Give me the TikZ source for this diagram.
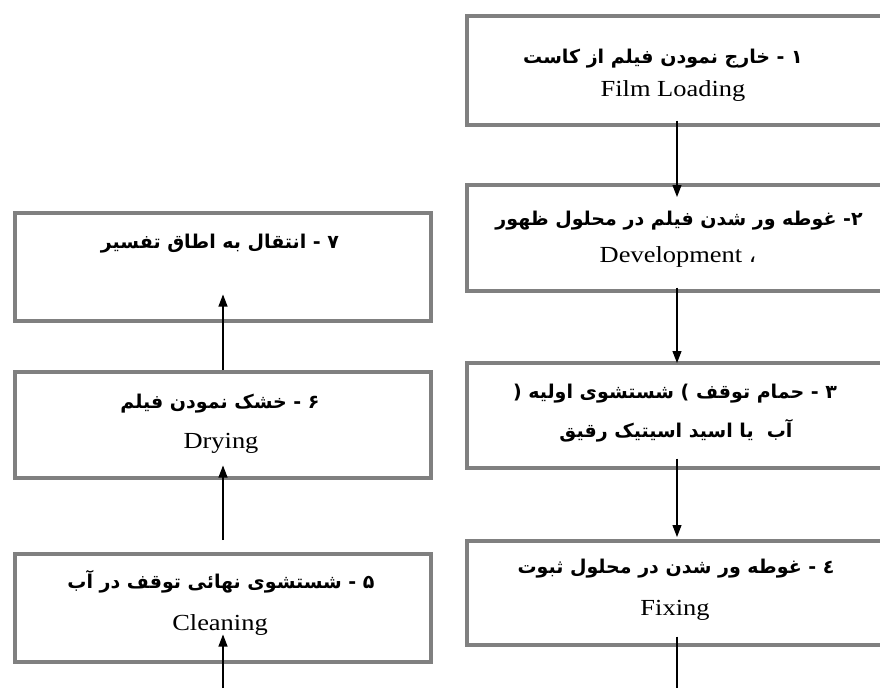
\documentclass[tikz,border=0pt]{standalone}
\usepackage{fontspec}
\setmainfont{Liberation Serif}
\newfontfamily\enfont[FakeStretch=1.15]{Liberation Serif}
\newfontfamily\fafont[Script=Arabic]{DejaVu Sans}
\TeXXeTstate=1
\usetikzlibrary{arrows.meta}
\newcommand\fatxt[1]{{\fafont\bfseries\beginR #1\endR}}
\begin{document}
\begin{tikzpicture}[x=1pt,y=-1pt,
  box/.style={draw=black!50, line width=3.5pt, inner sep=0pt, anchor=north west},
  fa/.style={anchor=base, inner sep=0pt, font=\fontsize{19}{22}\fafont\bfseries},
  en/.style={anchor=base, inner sep=0pt, font=\fontsize{23}{26}\enfont},
  arr/.style={line width=1.1pt, -{Triangle[length=12pt,width=9pt]}}]
\useasboundingbox (0,0) rectangle (880,688);
% right column boxes
\node[box, minimum width=419pt, minimum height=109pt] (b1) at (465,14) {};
\node[box, minimum width=419pt, minimum height=106pt] (b2) at (465,183) {};
\node[box, minimum width=419pt, minimum height=105pt] (b3) at (465,361) {};
\node[box, minimum width=419pt, minimum height=104pt] (b4) at (465,539) {};
% left column boxes
\node[box, minimum width=416pt, minimum height=108pt] (b7) at (13,211) {};
\node[box, minimum width=416pt, minimum height=106pt] (b6) at (13,370) {};
\node[box, minimum width=416pt, minimum height=108pt] (b5) at (13,552) {};
% texts
\node[fa] (t1a) at (663,63) {\fatxt{۱ - خارج نمودن فیلم از کاست}};
\node[en] (t1b) at (673,96) {Film Loading};
\node[fa] (t2a) at (679,225) {\fatxt{۲- غوطه ور شدن فیلم در محلول ظهور}};
\node[en] (t2b) at (678,262) {Development {\fafont ،}};
\node[fa] (t3a) at (675,398) {\fatxt{۳ - حمام توقف ) شستشوی اولیه (}};
\node[fa] (t3b) at (676,437) {\fatxt{آب\ \ یا اسید اسیتیک رقیق}};
\node[fa] (t4a) at (676,573) {\fatxt{٤ - غوطه ور شدن در محلول ثبوت}};
\node[en] (t4b) at (675,615) {Fixing};
\node[fa] (t7a) at (220,248) {\fatxt{۷ - انتقال به اطاق تفسیر}};
\node[fa] (t6a) at (220,408) {\fatxt{۶ - خشک نمودن فیلم}};
\node[en] (t6b) at (221,448) {Drying};
\node[fa] (t5a) at (221,588) {\fatxt{۵ - شستشوی نهائی توقف در آب}};
\node[en] (t5b) at (220,630) {Cleaning};
% connectors
\coordinate (r0) at (677,688);
\coordinate (l0) at (223,688);
\draw[arr] (b1.south west -| r0) ++(0,-6) -- ([yshift=-14pt]b2.north west -| r0);
\draw[arr] (b2.south west -| r0) ++(0,-5) -- ([yshift=-2pt]b3.north west -| r0);
\draw[arr] (b3.south west -| r0) ++(0,-11) -- ([yshift=2pt]b4.north west -| r0);
\draw[line width=1.1pt] (b4.south west -| r0) ++(0,-10) -- (r0);
\draw[arr] (l0) -- ([yshift=29pt]b5.south west -| l0);
\draw[arr] (b5.north west -| l0) ++(0,-12) -- ([yshift=14pt]b6.south west -| l0);
\draw[arr] (b6.north west -| l0) -- ([yshift=28pt]b7.south west -| l0);
\end{tikzpicture}
\end{document}
